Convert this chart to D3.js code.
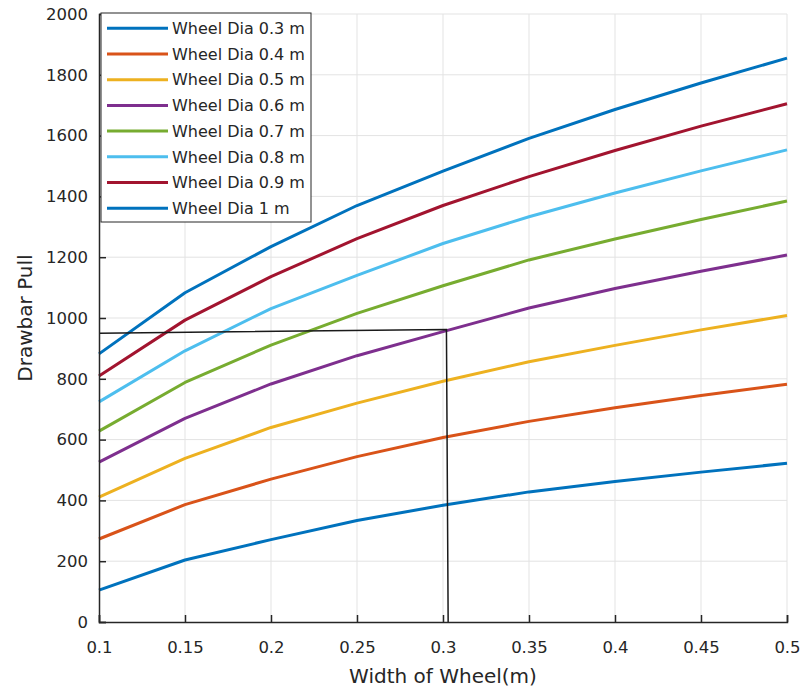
<!DOCTYPE html>
<html>
<head>
<meta charset="UTF-8">
<script src="https://cdn.jsdelivr.net/npm/d3@7"></script>
<style>
  body { margin: 0; background: #fff; }
  text { font-family: "DejaVu Sans", sans-serif; fill: #262626; }
</style>
</head>
<body>
<div id="chart"></div>
<script>
// wheel width (m)
const widths = [0.1, 0.15, 0.2, 0.25, 0.3, 0.35, 0.4, 0.45, 0.5];

// drawbar pull for each wheel diameter
const dia03 = [105, 204, 271, 334, 384, 428, 462, 493, 522];
const dia04 = [273, 386, 470, 544, 607, 660, 705, 745, 782];
const dia05 = [411, 538, 640, 720, 792, 856, 910, 961, 1008];
const dia06 = [526, 670, 783, 876, 955, 1033, 1097, 1154, 1207];
const dia07 = [628, 788, 911, 1015, 1106, 1191, 1260, 1324, 1385];
const dia08 = [724, 892, 1031, 1140, 1245, 1333, 1411, 1484, 1553];
const dia09 = [809, 993, 1136, 1261, 1370, 1465, 1551, 1631, 1705];
const dia10 = [882, 1083, 1235, 1370, 1483, 1591, 1686, 1773, 1855];

const seriesNames = ["Wheel Dia 0.3 m", "Wheel Dia 0.4 m", "Wheel Dia 0.5 m", "Wheel Dia 0.6 m",
                     "Wheel Dia 0.7 m", "Wheel Dia 0.8 m", "Wheel Dia 0.9 m", "Wheel Dia 1 m"];
const seriesValues = [dia03, dia04, dia05, dia06, dia07, dia08, dia09, dia10];
const colors = ["#0072BD", "#D95319", "#EDB120", "#7E2F8E", "#77AC30", "#4DBEEE", "#A2142F", "#0072BD"];

// the black reading guide
const guideX = [0.1, 0.302, 0.303];
const guideY = [950, 962, 0];

const xTicks = [0.1, 0.15, 0.2, 0.25, 0.3, 0.35, 0.4, 0.45, 0.5];
const yTicks = d3.range(0, 2001, 200);

const width = 811, height = 688;
const margin = {top: 14, right: 24, bottom: 66, left: 99};
const innerWidth = width - margin.left - margin.right;
const innerHeight = height - margin.top - margin.bottom;

const svg = d3.select("#chart").append("svg")
    .attr("width", width)
    .attr("height", height);

const g = svg.append("g")
    .attr("transform", "translate(" + margin.left + "," + margin.top + ")");

const x = d3.scaleLinear().domain([0.1, 0.5]).range([0, innerWidth]);
const y = d3.scaleLinear().domain([0, 2000]).range([innerHeight, 0]);

// grid
g.append("g").selectAll("line")
    .data(xTicks.slice(1))
    .enter().append("line")
    .attr("x1", d => x(d)).attr("x2", d => x(d))
    .attr("y1", 0).attr("y2", innerHeight)
    .attr("stroke", "#e3e3e3").attr("stroke-width", 1);

g.append("g").selectAll("line")
    .data(yTicks.slice(1))
    .enter().append("line")
    .attr("x1", 0).attr("x2", innerWidth)
    .attr("y1", d => y(d)).attr("y2", d => y(d))
    .attr("stroke", "#e3e3e3").attr("stroke-width", 1);

// curves
const line = d3.line()
    .x((d, i) => x(widths[i]))
    .y(d => y(d));

g.append("g").selectAll("path")
    .data(seriesValues)
    .enter().append("path")
    .attr("d", d => line(d))
    .attr("fill", "none")
    .attr("stroke", (d, i) => colors[i])
    .attr("stroke-width", 3)
    .attr("stroke-linejoin", "round");

// guide lines
g.append("path")
    .attr("d", d3.line().x((d, i) => x(guideX[i])).y(d => y(d))(guideY))
    .attr("fill", "none")
    .attr("stroke", "#1a1a1a")
    .attr("stroke-width", 1.5);

// axes (ticks pointing inside)
const xAxisG = g.append("g")
    .attr("transform", "translate(0," + innerHeight + ")")
    .call(d3.axisBottom(x).tickValues(xTicks).tickSize(-7).tickPadding(19)
        .tickFormat(d => String(+d.toFixed(2))));

const yAxisG = g.append("g")
    .call(d3.axisLeft(y).tickValues(yTicks).tickSize(-7).tickPadding(11)
        .tickFormat(d => String(d)));

[xAxisG, yAxisG].forEach(a => {
    a.select(".domain").attr("stroke", "#262626").attr("stroke-width", 1.5);
    a.selectAll(".tick line").attr("stroke", "#262626").attr("stroke-width", 1.5);
    a.selectAll(".tick text").style("font-size", "16.5px").attr("fill", "#4d4d4d")
        .style("font-family", '"DejaVu Sans", sans-serif');
});

xAxisG.append("text")
    .attr("x", innerWidth / 2)
    .attr("y", 61)
    .attr("text-anchor", "middle")
    .attr("fill", "#4d4d4d")
    .style("font-size", "20px")
    .text("Width of Wheel(m)");

yAxisG.append("text")
    .attr("transform", "rotate(-90)")
    .attr("x", -innerHeight / 2)
    .attr("y", -67)
    .attr("text-anchor", "middle")
    .attr("fill", "#4d4d4d")
    .style("font-size", "20px")
    .text("Drawbar Pull");

// legend
const legend = svg.append("g").attr("transform", "translate(101,13)");
legend.append("rect")
    .attr("width", 210).attr("height", 209)
    .attr("fill", "#fff").attr("stroke", "#262626").attr("stroke-width", 1);

const rows = legend.selectAll(".row")
    .data(seriesNames)
    .enter().append("g")
    .attr("transform", (d, i) => "translate(0," + (15.3 + i * 25.7) + ")");

rows.append("line")
    .attr("x1", 6).attr("x2", 67)
    .attr("stroke", (d, i) => colors[i])
    .attr("stroke-width", 3);

rows.append("text")
    .attr("x", 71)
    .attr("dy", "0.36em")
    .attr("fill", "#262626")
    .style("font-size", "16px")
    .text(d => d);
</script>
</body>
</html>
